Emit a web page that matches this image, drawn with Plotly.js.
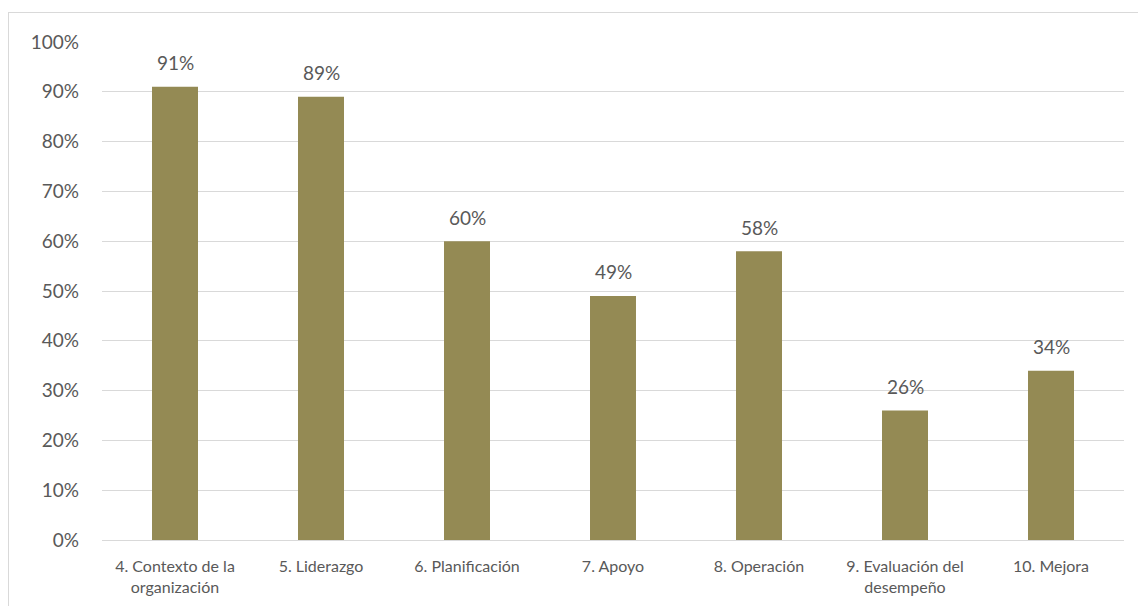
<!DOCTYPE html>
<html>
<head>
<meta charset="utf-8">
<script src="https://cdn.plot.ly/plotly-3.0.1.min.js"></script>
<style>
  html, body { margin: 0; padding: 0; background: #fff; }
  #wrap { position: relative; width: 1138px; height: 606px; }
  #frame { position: absolute; left: 8px; top: 12px; width: 1140px; height: 610px; border: 1px solid #d9d9d9; box-sizing: border-box; pointer-events: none; }
  #chart { position: absolute; left: 0; top: 0; width: 1138px; height: 606px; }
</style>
</head>
<body>
<div id="wrap">
  <div id="chart"></div>
  <div id="frame"></div>
</div>
<script>
const categories = [
  "4. Contexto de la<br>organización",
  "5. Liderazgo",
  "6. Planificación",
  "7. Apoyo",
  "8. Operación",
  "9. Evaluación del<br>desempeño",
  "10. Mejora"
];
const values = [0.91, 0.89, 0.60, 0.49, 0.58, 0.26, 0.34];
const labels = ["91%", "89%", "60%", "49%", "58%", "26%", "34%"];
const yTicks = [0, 0.1, 0.2, 0.3, 0.4, 0.5, 0.6, 0.7, 0.8, 0.9, 1.0];
const yTickText = ["0%", "10%", "20%", "30%", "40%", "50%", "60%", "70%", "80%", "90%", "100%"];

const font = "Lato, 'Open Sans', 'DejaVu Sans', sans-serif";

const annotations = categories.map((c, i) => ({
  x: c,
  y: values[i],
  text: labels[i],
  showarrow: false,
  xanchor: "center",
  yanchor: "middle",
  yshift: 24,
  font: { family: font, size: 19, color: "#595959" }
}));

Plotly.newPlot("chart", [{
  type: "bar",
  x: categories,
  y: values,
  marker: { color: "#948A54" },
  width: 0.315,
  hoverinfo: "skip"
}], {
  width: 1138,
  height: 606,
  margin: { l: 102, r: 14, t: 42, b: 66 },
  paper_bgcolor: "rgba(0,0,0,0)",
  plot_bgcolor: "rgba(0,0,0,0)",
  showlegend: false,
  font: { family: font, color: "#595959" },
  annotations: annotations,
  xaxis: {
    type: "category",
    showgrid: false,
    showline: true,
    linecolor: "#d9d9d9",
    linewidth: 1,
    ticks: "",
    ticklabelstandoff: 12,
    tickfont: { family: font, size: 16, color: "#595959" },
    fixedrange: true
  },
  yaxis: {
    range: [0, 1],
    tickvals: yTicks,
    ticktext: yTickText,
    showgrid: true,
    gridcolor: "#d9d9d9",
    gridwidth: 1,
    zeroline: false,
    showline: false,
    ticks: "",
    ticklabelstandoff: 22,
    tickfont: { family: font, size: 19, color: "#595959" },
    fixedrange: true
  }
}, { staticPlot: true, displayModeBar: false });
</script>
</body>
</html>
